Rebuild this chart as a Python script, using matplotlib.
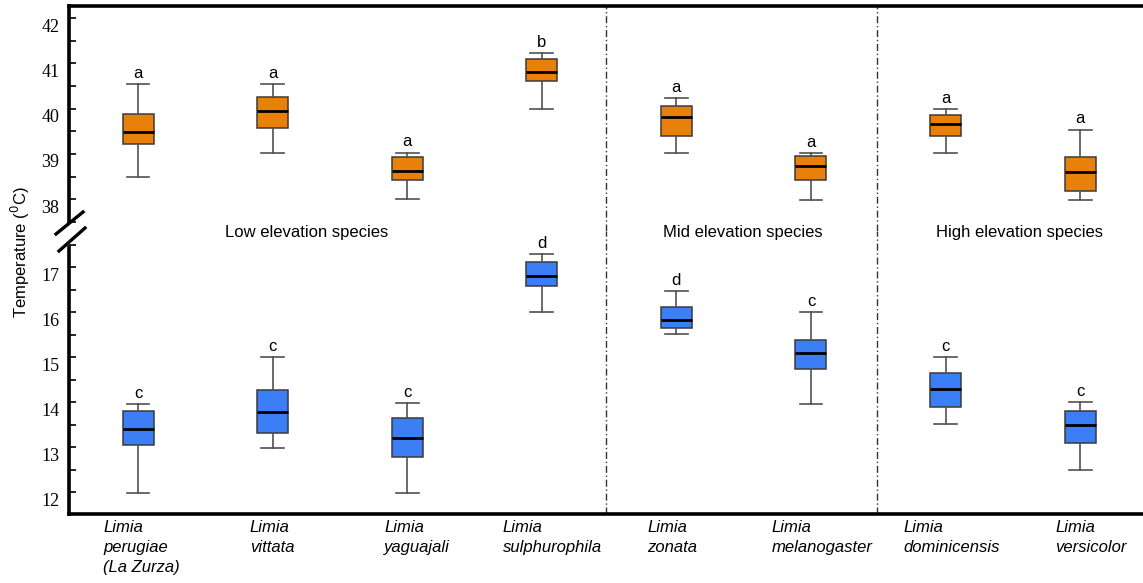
import numpy as np
import matplotlib
matplotlib.use("Agg")
import matplotlib.pyplot as plt
import matplotlib.transforms as mtransforms
from matplotlib.ticker import MultipleLocator
from matplotlib.lines import Line2D

species = ["Limia\nperugiae\n(La Zurza)", "Limia\nvittata", "Limia\nyaguajali",
           "Limia\nsulphurophila", "Limia\nzonata", "Limia\nmelanogaster",
           "Limia\ndominicensis", "Limia\nversicolor"]

# CTmax (orange): whisker low, q1, median, q3, whisker high
max_lo = [38.50, 39.03, 38.00, 40.00, 39.02, 37.99, 39.02, 37.99]
max_q1 = [39.22, 39.58, 38.42, 40.62, 39.39, 38.43, 39.39, 38.18]
max_med = [39.48, 39.94, 38.63, 40.81, 39.82, 38.74, 39.66, 38.60]
max_q3 = [39.89, 40.26, 38.93, 41.10, 40.06, 38.95, 39.86, 38.94]
max_hi = [40.54, 40.55, 39.03, 41.23, 40.24, 39.02, 40.00, 39.54]
max_letters = ["a", "a", "a", "b", "a", "a", "a", "a"]

# CTmin (blue)
min_lo = [11.99, 12.98, 11.98, 16.00, 15.51, 13.97, 13.51, 12.49]
min_q1 = [13.05, 13.32, 12.78, 16.58, 15.66, 14.74, 13.89, 13.10]
min_med = [13.41, 13.78, 13.20, 16.81, 15.84, 15.10, 14.30, 13.50]
min_q3 = [13.82, 14.27, 13.65, 17.11, 16.12, 15.38, 14.66, 13.82]
min_hi = [13.97, 15.01, 13.98, 17.29, 16.48, 16.00, 15.01, 14.01]
min_letters = ["c", "c", "c", "d", "d", "c", "c", "c"]

groups = ["Low elevation species", "Mid elevation species", "High elevation species"]

orange = "#E8800A"
blue = "#3B7EF6"
edge = "#3a3a3a"
W, H = 1143, 583

plt.rcParams["font.family"] = ["Liberation Sans", "DejaVu Sans"]
fig = plt.figure(figsize=(W / 100, H / 100), dpi=100)

def fx(px):
    return px / W

def fy(px):
    return 1 - px / H

left = fx(69)
ax_top = fig.add_axes([left, fy(231), 1 - left, fy(6) - fy(231)])
ax_bot = fig.add_axes([left, fy(514), 1 - left, fy(231) - fy(514)])

pos = np.arange(len(species))

def draw(ax, lo, q1, med, q3, hi, color, letters):
    stats = [dict(whislo=a, q1=b, med=c, q3=d, whishi=e, fliers=[])
             for a, b, c, d, e in zip(lo, q1, med, q3, hi)]
    ax.bxp(stats, positions=pos, widths=0.23, capwidths=0.17, patch_artist=True,
           showfliers=False, manage_ticks=False,
           boxprops=dict(facecolor=color, edgecolor=edge, linewidth=1.1),
           medianprops=dict(color="black", linewidth=2),
           whiskerprops=dict(color="#505050", linewidth=1.2),
           capprops=dict(color="#505050", linewidth=1.2))
    for p, h, t in zip(pos, hi, letters):
        ax.annotate(t, (p, h), xytext=(0, 4.5), textcoords="offset points",
                    ha="center", va="baseline", fontsize=12)

draw(ax_top, max_lo, max_q1, max_med, max_q3, max_hi, orange, max_letters)
draw(ax_bot, min_lo, min_q1, min_med, min_q3, min_hi, blue, min_letters)

ax_top.set_ylim(37.30, 42.27)
ax_bot.set_ylim(11.52, 17.81)
ax_top.set_yticks(range(38, 43))
ax_bot.set_yticks(range(12, 18))

# tick labels sit a little below their ticks in the original
offset = mtransforms.ScaledTranslation(0, -5 / 72, fig.dpi_scale_trans)
for ax in (ax_top, ax_bot):
    ax.set_xlim(-0.513, 7.467)
    ax.set_xticks([])
    ax.spines["right"].set_visible(False)
    for s in ax.spines.values():
        s.set_linewidth(2.6)
    ax.yaxis.set_minor_locator(MultipleLocator(0.5))
    ax.tick_params(axis="y", which="both", direction="in", length=5, width=1.2,
                   pad=7, labelsize=13)
    for lab in ax.get_yticklabels():
        lab.set_fontfamily(["Liberation Serif", "DejaVu Serif"])
        lab.set_transform(lab.get_transform() + offset)
    for xv in (3.48, 5.49):
        ax.axvline(xv, color="#333333", linewidth=1, linestyle=(0, (5, 2, 1, 2)))

ax_top.spines["bottom"].set_visible(False)
ax_bot.spines["top"].set_visible(False)
ax_top.spines["left"].set_bounds(37.50, 42.27)
ax_bot.spines["left"].set_bounds(11.52, 17.46)

# break marks on the y axis
for (x0, y0, x1, y1) in [(56, 234, 83, 212), (59, 251, 85, 228)]:
    fig.add_artist(Line2D([fx(x0), fx(x1)], [fy(y0), fy(y1)], color="black",
                          linewidth=2.4, transform=fig.transFigure))

label_shift = [-35, -23, -23, -39, -29, -39, -42, -25]
for p, name, sh in zip(pos, species, label_shift):
    ax_bot.annotate(name, (p, 0), xycoords=("data", "axes fraction"),
                    xytext=(sh * 0.72, -4), textcoords="offset points",
                    ha="left", va="top", fontsize=12, fontstyle="italic",
                    linespacing=1.45)

for name, cx in zip(groups, [307, 743, 1019]):
    fig.text(fx(cx), fy(232), name, ha="center", va="center", fontsize=12)

fig.text(fx(20), fy(252), "Temperature ($^{0}$C)", rotation=90,
         ha="center", va="center", fontsize=12)

fig.savefig("out.png", dpi=100)
